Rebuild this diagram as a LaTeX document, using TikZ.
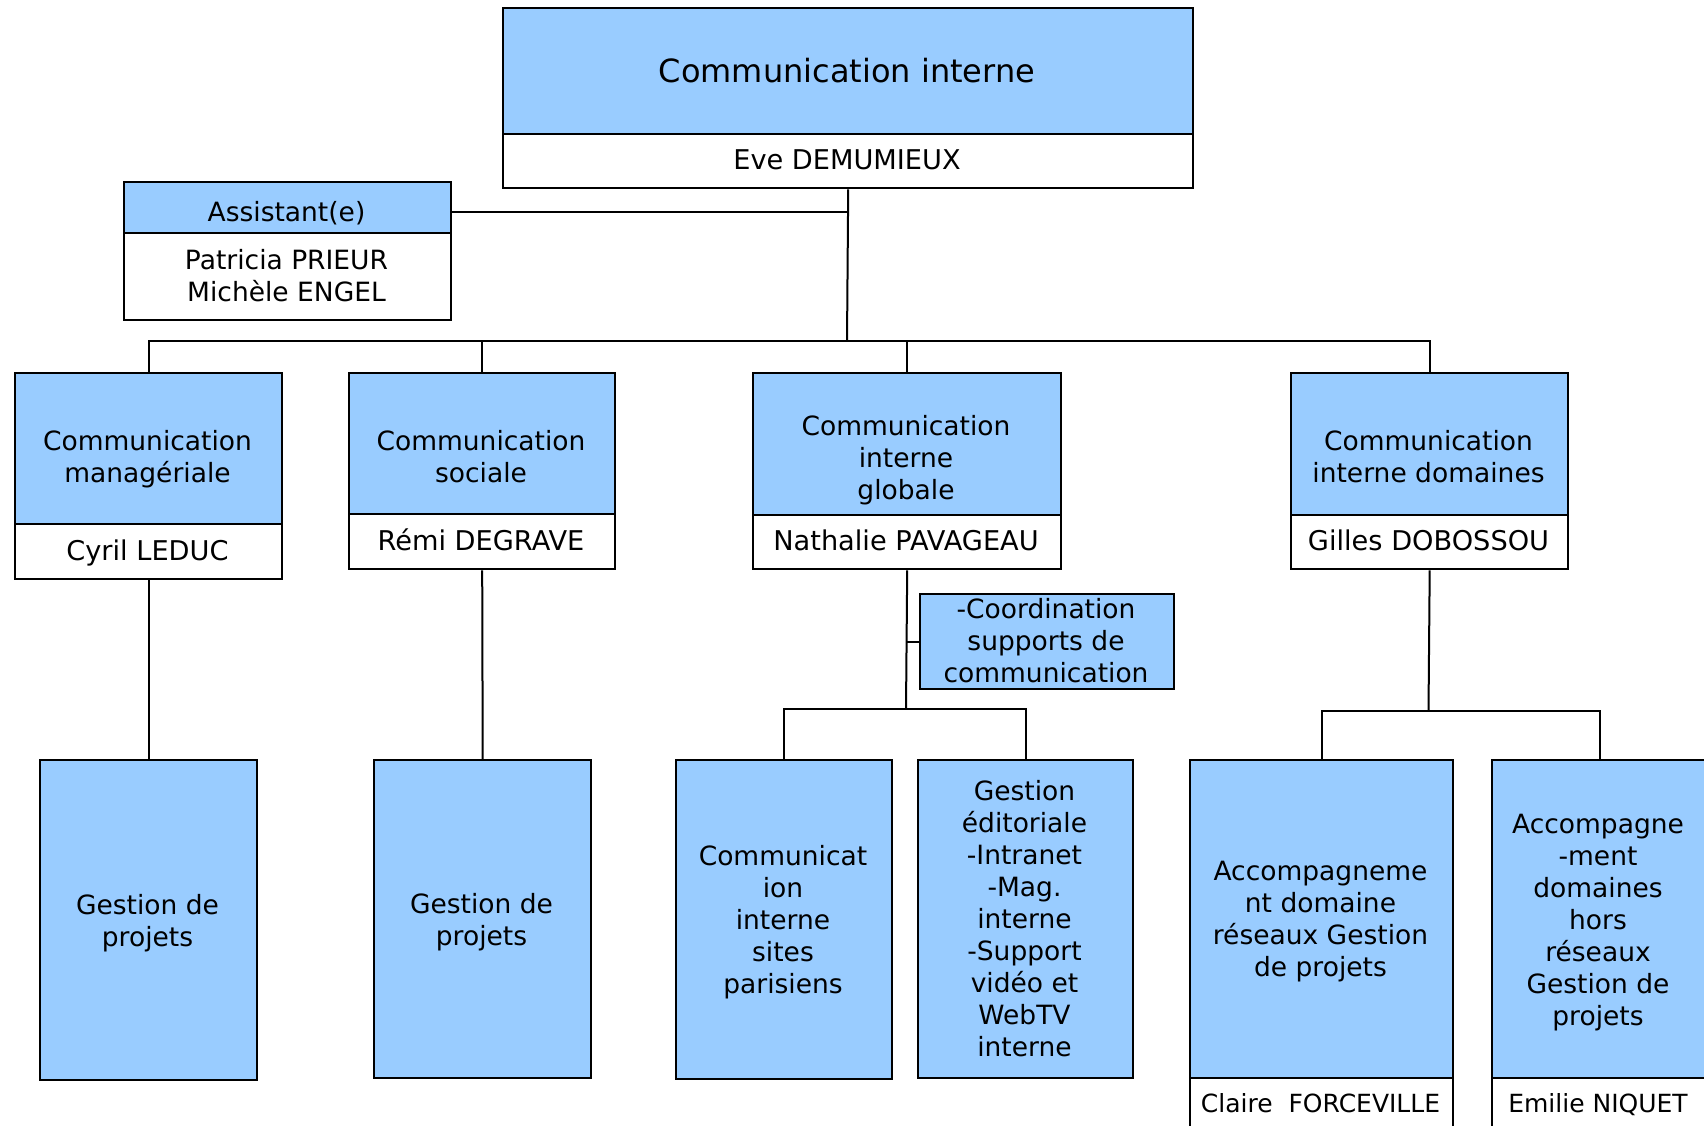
\documentclass[tikz,border=0pt]{standalone}
\usepackage{fontspec}
\setmainfont{DejaVu Sans}
\definecolor{bl}{HTML}{99CCFF}
\newcommand\tst{\rule{0pt}{30pt}}
\begin{document}
\begin{tikzpicture}[x=1pt,y=-1pt,
  bx/.style={draw=black, line width=2.4pt, inner sep=0pt, anchor=north west},
  fb/.style={bx, fill=bl},
  fw/.style={bx, fill=white},
  cn/.style={draw=black, line width=2pt},
  txt/.style={inner sep=0pt, anchor=north, align=center, font=\fontsize{26.5}{32}\selectfont},
  big/.style={txt, font=\fontsize{32}{38}\selectfont},
  nm/.style={txt, font=\fontsize{25}{32}\selectfont},
  nmb/.style={txt, font=\fontsize{27.2}{32}\selectfont}]
\useasboundingbox (0,0) rectangle (1704,1125);
\clip (0,0) rectangle (1704,1125);
\fill[white] (0,0) rectangle (1704,1125);
% boxes
\node[fb, minimum width=690pt, minimum height=126pt] (top) at (502,7) {};
\node[fw, minimum width=690pt, minimum height=54pt] (eve) at (502,133) {};
\node[fb, minimum width=327pt, minimum height=51pt] (asb) at (123,181) {};
\node[fw, minimum width=327pt, minimum height=87pt] (asw) at (123,232) {};
\node[fb, minimum width=267pt, minimum height=151pt] (l2a) at (14,372) {};
\node[fw, minimum width=267pt, minimum height=55pt] (l2aw) at (14,523) {};
\node[fb, minimum width=266pt, minimum height=141pt] (l2b) at (348,372) {};
\node[fw, minimum width=266pt, minimum height=55pt] (l2bw) at (348,513) {};
\node[fb, minimum width=308pt, minimum height=142pt] (l2c) at (752,372) {};
\node[fw, minimum width=308pt, minimum height=54pt] (l2cw) at (752,514) {};
\node[fb, minimum width=277pt, minimum height=142pt] (l2d) at (1290,372) {};
\node[fw, minimum width=277pt, minimum height=54pt] (l2dw) at (1290,514) {};
\node[fb, minimum width=254pt, minimum height=95pt] (coord) at (919,593) {};
\node[fb, minimum width=217pt, minimum height=320pt] (l3a) at (39,759) {};
\node[fb, minimum width=217pt, minimum height=318pt] (l3b) at (373,759) {};
\node[fb, minimum width=216pt, minimum height=319pt] (l3c) at (675,759) {};
\node[fb, minimum width=215pt, minimum height=318pt] (l3d) at (917,759) {};
\node[fb, minimum width=263pt, minimum height=318pt] (l3e) at (1189,759) {};
\node[fw, minimum width=263pt, minimum height=70pt] (l3ew) at (1189,1077) {};
\node[fb, minimum width=216pt, minimum height=318pt] (l3f) at (1491,759) {};
\node[fw, minimum width=216pt, minimum height=70pt] (l3fw) at (1491,1077) {};
% texts (anchor north = first baseline - 30pt)
\node[big] (tTop) at (847,52.7) {\tst Communication interne};
\node[nmb] (tEve) at (847,139.3) {\tst Eve DEMUMIEUX};
\node[txt] (tAsb) at (286.5,191.7) {\tst Assistant(e)};
\node[txt] (tAsw) at (286.5,239) {\tst Patricia PRIEUR\\Michèle ENGEL};
\node[txt] (tA) at (147.5,420.7) {\tst Communication\\managériale};
\node[nmb] (tAw) at (147.5,530) {\tst Cyril LEDUC};
\node[txt] (tB) at (481,420.7) {\tst Communication\\sociale};
\node[nmb] (tBw) at (481,520.7) {\tst Rémi DEGRAVE};
\node[txt] (tC) at (906,405) {\tst Communication\\interne\\globale};
\node[nmb] (tCw) at (906,520) {\tst Nathalie PAVAGEAU};
\node[txt] (tD) at (1428.5,420.7) {\tst Communication\\interne domaines};
\node[nmb] (tDw) at (1428.5,520) {\tst Gilles DOBOSSOU};
\node[txt] (tCo) at (1046,588.3) {\tst -Coordination\\supports de\\communication};
\node[txt] (t3a) at (147.5,884.3) {\tst Gestion de\\projets};
\node[txt] (t3b) at (481.5,883.3) {\tst Gestion de\\projets};
\node[txt] (t3c) at (783,835) {\tst Communicat\\ion\\interne\\sites\\parisiens};
\node[txt] (t3d) at (1024.5,770.7) {\tst Gestion\\éditoriale\\-Intranet\\-Mag.\\interne\\-Support\\vidéo et\\WebTV\\interne};
\node[txt] (t3e) at (1320.5,850.7) {\tst Accompagneme\\nt domaine\\réseaux Gestion\\de projets};
\node[nm] (t3ew) at (1320.5,1082.3) {\tst Claire\ \ FORCEVILLE};
\node[txt] (t3f) at (1598,803.3) {\tst Accompagne\\-ment\\domaines\\hors\\réseaux\\Gestion de\\projets};
\node[nm] (t3fw) at (1598,1082.3) {\tst Emilie NIQUET};
% connectors
\coordinate (bus) at (847,341);
\draw[cn] (eve.south) -- (bus);
\draw[cn] ([yshift=-4.5pt]asb.east) -- ([yshift=-4.5pt]asb.east -| bus);
\draw[cn] (l2a.north) |- (bus) -| (l2d.north);
\draw[cn] (l2b.north) -- (l2b.north |- bus);
\draw[cn] (l2c.north) -- (l2c.north |- bus);
\draw[cn] (l2aw.south) -- (l3a.north);
\draw[cn] (l2bw.south) -- (l3b.north);
\coordinate (j3) at (906,709);
\draw[cn] (l2cw.south) -- (j3);
\draw[cn] (coord.west) -- (coord.west -| j3);
\draw[cn] (l3c.north) |- (j3) -| (l3d.north);
\coordinate (j4) at (1428.5,711);
\draw[cn] (l2dw.south) -- (j4);
\draw[cn] (l3e.north) |- (j4) -| (l3f.north);
\end{tikzpicture}
\end{document}
